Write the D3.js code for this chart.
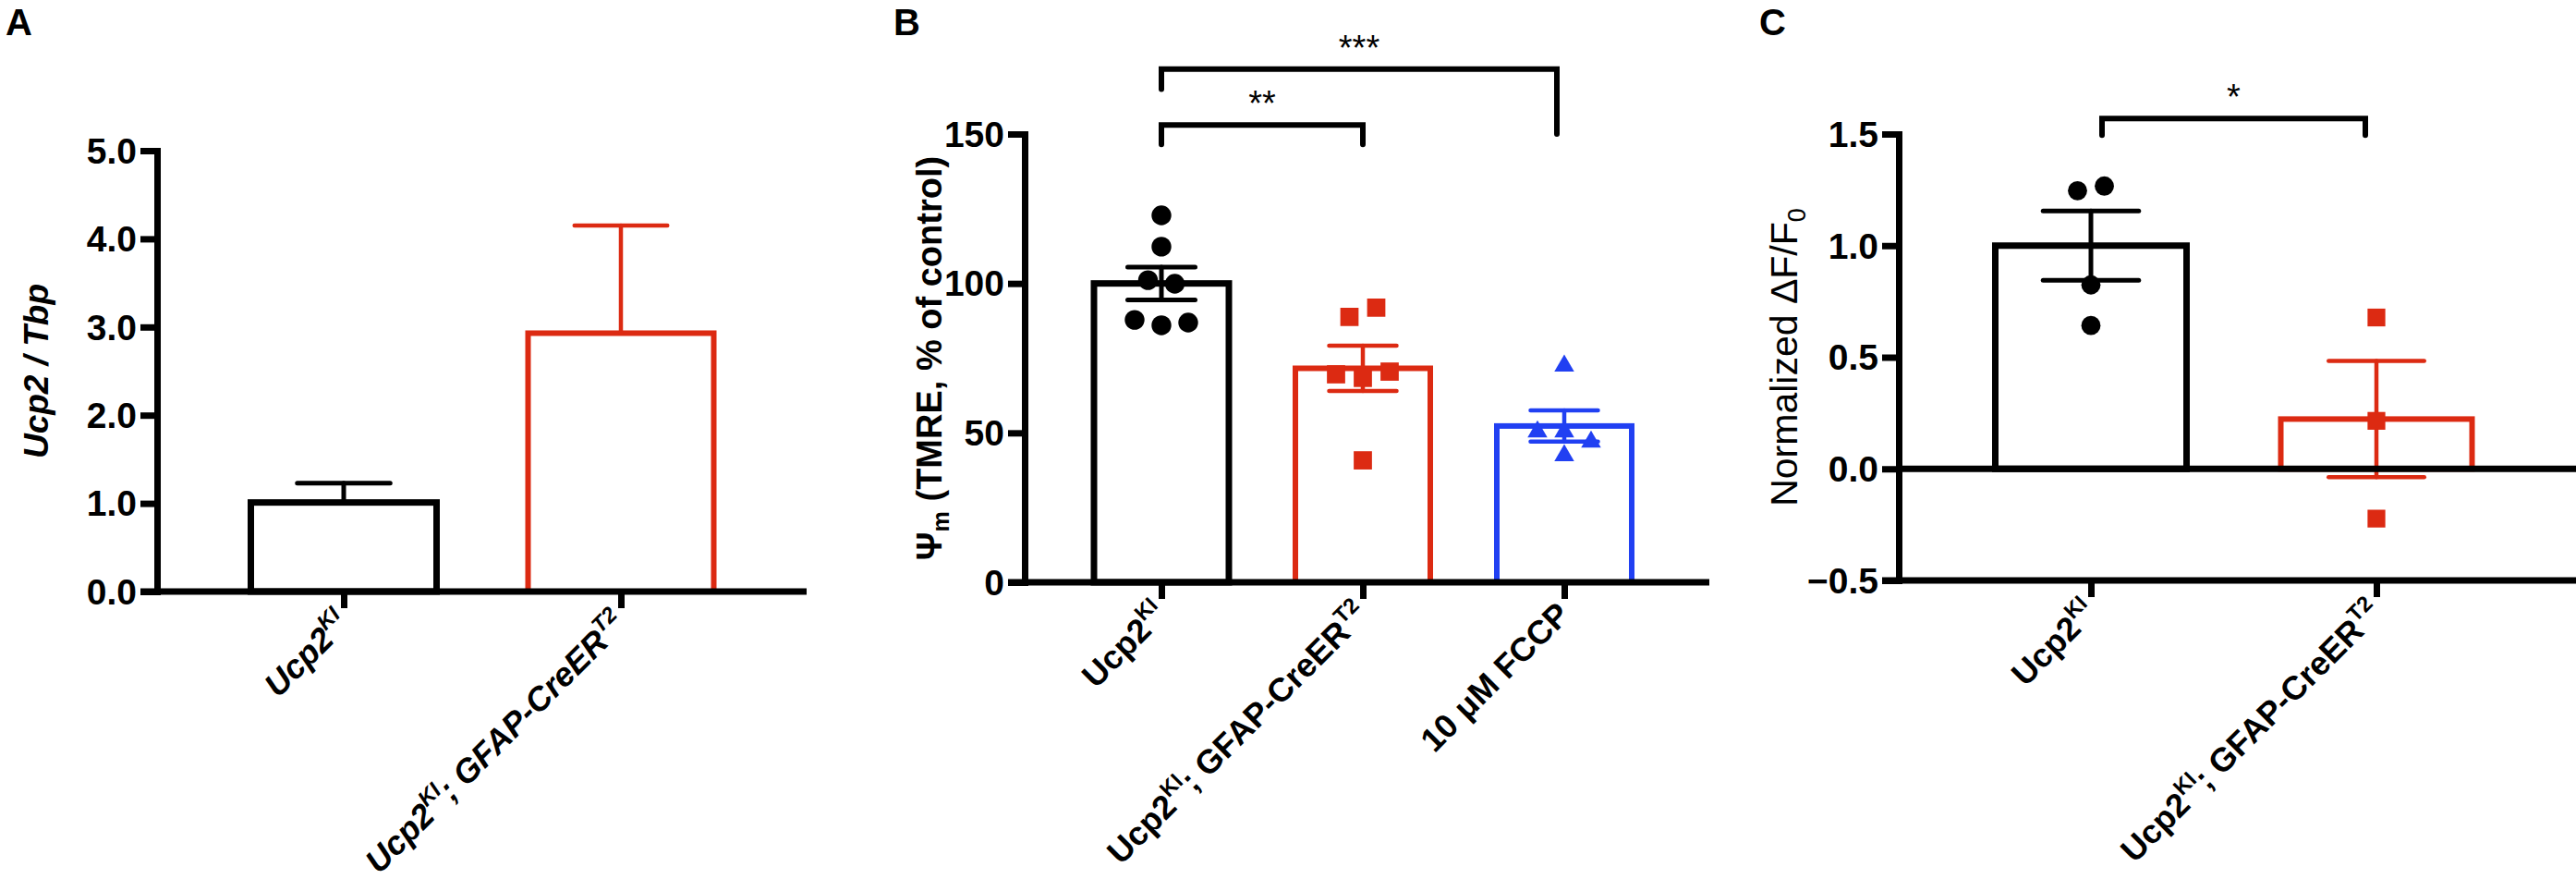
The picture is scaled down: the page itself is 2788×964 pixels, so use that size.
<!DOCTYPE html>
<html>
<head>
<meta charset="utf-8">
<script src="https://cdn.jsdelivr.net/npm/d3@7"></script>
<style>
  body { margin: 0; background: #fff; }
  text { font-family: "Liberation Sans", Arial, Helvetica, sans-serif; }
  .tick text { font-family: "Liberation Sans Narrow", "Arial Narrow", "Liberation Sans", sans-serif; }
</style>
</head>
<body>
<script>
// ---- data ----
const catsA = ["Ucp2KI", "Ucp2KI; GFAP-CreERT2"];
const meanA = [1.01, 2.93];
const semA = [0.22, 1.22];
const ticksA = [0, 1, 2, 3, 4, 5];

const catsB = ["Ucp2KI", "Ucp2KI; GFAP-CreERT2", "10 μM FCCP"];
const meanB = [100, 71.6, 52.3];
const semB = [5.5, 7.6, 5.2];
const ptsB0 = [122.8, 112.3, 101.1, 99.9, 87.8, 86.0, 86.9];
const ptsB1 = [88.8, 91.9, 69.6, 68.4, 70.5, 40.8];
const ptsB2 = [72.4, 50.4, 50.4, 47.0, 42.4];
const ticksB = [0, 50, 100, 150];

const catsC = ["Ucp2KI", "Ucp2KI; GFAP-CreERT2"];
const meanC = [1.0, 0.223];
const semC = [0.155, 0.26];
const ptsC0 = [1.246, 1.267, 0.824, 0.642];
const ptsC1 = [0.678, 0.215, -0.223];
const ticksC = [-0.5, 0, 0.5, 1.0, 1.5];

// rich label pieces: [text, "sup" | "sub" | null]
const labelParts = {
  "Ucp2KI": [["Ucp2", null], ["KI", "sup"]],
  "Ucp2KI; GFAP-CreERT2": [["Ucp2", null], ["KI", "sup"], ["; GFAP-CreER", null], ["T2", "sup"]],
  "10 μM FCCP": [["10 μM FCCP", null]]
};

const black = "#000", red = "#dc2a12", blue = "#2140f2";

const svg = d3.select("body").append("svg")
  .attr("width", 2788)
  .attr("height", 964);

function rich(text, parts, size) {
  let shift = 0;
  parts.forEach(([str, kind]) => {
    const target = kind === "sup" ? -0.42 * size : kind === "sub" ? 0.22 * size : 0;
    const t = text.append("tspan").text(str).attr("dy", target - shift);
    if (kind) t.attr("font-size", size * 0.66);
    shift = target;
  });
}

// spread points that overlap in y (GraphPad-like scatter)
function spread(values, y, gap, thresh) {
  const idx = values.map((v, i) => i).sort((a, b) => y(values[a]) - y(values[b]));
  const offs = new Array(values.length).fill(0);
  let group = [idx[0]];
  const flush = () => {
    const g = group.slice().sort((a, b) => a - b);
    g.forEach((k, j) => offs[k] = (j - (g.length - 1) / 2) * gap);
  };
  for (let i = 1; i < idx.length; i++) {
    if (Math.abs(y(values[idx[i]]) - y(values[idx[i - 1]])) < thresh) group.push(idx[i]);
    else { flush(); group = [idx[i]]; }
  }
  flush();
  return offs;
}

function panel(cfg) {
  const g = svg.append("g");
  const { x, y, cats, means, sems, colors } = cfg;
  const base = y(cfg.base);

  // bars
  g.selectAll("rect.bar")
    .data(means)
    .join("rect")
    .attr("x", (d, i) => x(cats[i]) - cfg.barW / 2)
    .attr("y", d => Math.min(y(d), base))
    .attr("width", cfg.barW)
    .attr("height", d => Math.abs(base - y(d)))
    .attr("fill", "white")
    .attr("stroke", (d, i) => colors[i])
    .attr("stroke-width", (d, i) => colors[i] === black ? 7 : 6);

  // error bars
  means.forEach((m, i) => {
    const cx = x(cats[i]);
    const lo = cfg.upperOnly ? m : m - sems[i];
    const hi = m + sems[i];
    const eg = g.append("g")
      .attr("stroke", colors[i])
      .attr("stroke-width", colors[i] === black ? 5 : 4.5)
      .attr("stroke-linecap", "round");
    eg.append("line").attr("x1", cx).attr("x2", cx).attr("y1", y(lo)).attr("y2", y(hi));
    const caps = cfg.upperOnly ? [hi] : [lo, hi];
    caps.forEach(v => {
      eg.append("line")
        .attr("x1", cx - cfg.barW / 4).attr("x2", cx + cfg.barW / 4)
        .attr("y1", y(v)).attr("y2", y(v));
    });
  });

  // individual points
  (cfg.points || []).forEach((pts, i) => {
    const offs = spread(pts, y, 29, 13);
    const sym = d3.symbol().type(cfg.shapes[i]).size(cfg.sizes[i]);
    g.selectAll(null)
      .data(pts)
      .join("path")
      .attr("d", sym)
      .attr("fill", colors[i])
      .attr("transform", (d, j) => `translate(${x(cats[i]) + offs[j]},${y(d)})`);
  });

  // y axis
  const ya = g.append("g")
    .attr("transform", `translate(${cfg.axisX},0)`)
    .call(d3.axisLeft(y).tickValues(cfg.ticks).tickFormat(cfg.fmt)
      .tickSize(18).tickPadding(4).tickSizeOuter(0));
  ya.select(".domain").attr("stroke-linecap", "square");

  // extra zero line (panel C)
  if (cfg.zeroLine) {
    g.append("line")
      .attr("x1", cfg.axisX).attr("x2", cfg.xEnd)
      .attr("y1", y(0)).attr("y2", y(0))
      .attr("stroke", black).attr("stroke-width", 7);
  }

  // x axis
  const xa = g.append("g")
    .attr("transform", `translate(0,${y(cfg.ticks[0])})`)
    .call(d3.axisBottom(x).tickFormat("").tickSize(18).tickSizeOuter(0));
  xa.select(".domain").attr("d", `M${cfg.axisX - 18},0H${cfg.xEnd}`);

  g.selectAll(".domain, .tick line")
    .attr("stroke", black)
    .attr("stroke-width", 7);
  ya.attr("font-size", null).attr("font-family", null);
  ya.selectAll("text")
    .attr("font-size", 39)
    .attr("font-weight", "bold")
    .attr("dy", "0.34em")
    .attr("fill", black);

  // category labels, rotated
  const y0 = y(cfg.ticks[0]);
  cats.forEach(c => {
    const t = g.append("text")
      .attr("transform", `translate(${x(c) + 8},${y0 + 37}) rotate(-45)`)
      .attr("text-anchor", "end")
      .attr("font-size", 36)
      .attr("font-weight", "bold")
      .attr("font-style", cfg.italicCats ? "italic" : "normal");
    rich(t, labelParts[c], 36);
  });

  // y title
  const yt = g.append("text")
    .attr("transform", `translate(${cfg.titleX},${(y.range()[0] + y.range()[1]) / 2}) rotate(-90)`)
    .attr("text-anchor", "middle")
    .attr("font-size", cfg.titleSize)
    .attr("font-weight", cfg.titleWeight)
    .attr("font-style", cfg.titleStyle);
  rich(yt, cfg.title, cfg.titleSize);

  // panel letter
  g.append("text")
    .attr("x", cfg.letterX).attr("y", 38)
    .attr("font-size", 40).attr("font-weight", "bold")
    .text(cfg.letter);

  // significance brackets
  (cfg.sig || []).forEach(s => {
    const xl = x(cats[s.from]) + (s.insetL || 0), xr = x(cats[s.to]) - (s.insetR || 0);
    g.append("path")
      .attr("d", `M${xl},${y(s.dropL)}V${y(s.top)}H${xr}V${y(s.dropR)}`)
      .attr("fill", "none")
      .attr("stroke", black)
      .attr("stroke-width", 6)
      .attr("stroke-linecap", "round");
    g.append("text")
      .attr("x", (xl + xr) / 2).attr("y", y(s.top) - 10)
      .attr("text-anchor", "middle")
      .attr("font-size", 38)
      .text(s.label);
  });
}

// ---- A ----
panel({
  letter: "A", letterX: 6,
  cats: catsA, means: meanA, sems: semA, upperOnly: true,
  colors: [black, red],
  x: d3.scalePoint().domain(catsA).range([372, 672]),
  y: d3.scaleLinear().domain([0, 5]).range([640, 163]),
  base: 0, ticks: ticksA, fmt: d3.format(".1f"),
  axisX: 170, xEnd: 873, barW: 201,
  italicCats: true,
  title: [["Ucp2 / Tbp", null]], titleX: 52, titleSize: 37,
  titleWeight: "bold", titleStyle: "italic"
});

// ---- B ----
panel({
  letter: "B", letterX: 967,
  cats: catsB, means: meanB, sems: semB,
  colors: [black, red, blue],
  points: [ptsB0, ptsB1, ptsB2],
  shapes: [d3.symbolCircle, d3.symbolSquare, d3.symbolTriangle],
  sizes: [360, 390, 200],
  x: d3.scalePoint().domain(catsB).range([1257, 1693]),
  y: d3.scaleLinear().domain([0, 150]).range([630, 145]),
  base: 0, ticks: ticksB, fmt: d3.format("d"),
  axisX: 1109, xEnd: 1850, barW: 146,
  italicCats: false,
  title: [["Ψ", null], ["m", "sub"], [" (TMRE, % of control)", null]], titleX: 1019, titleSize: 38,
  titleWeight: "bold", titleStyle: "normal",
  sig: [
    { from: 0, to: 1, label: "**", top: 153, dropL: 146.5, dropR: 146.5 },
    { from: 0, to: 2, label: "***", top: 171.7, dropL: 165, dropR: 150, insetR: 8 }
  ]
});

// ---- C ----
panel({
  letter: "C", letterX: 1904,
  cats: catsC, means: meanC, sems: semC,
  colors: [black, red],
  points: [ptsC0, ptsC1],
  shapes: [d3.symbolCircle, d3.symbolSquare],
  sizes: [340, 370],
  x: d3.scalePoint().domain(catsC).range([2263, 2572]),
  y: d3.scaleLinear().domain([-0.5, 1.5]).range([628, 145]),
  base: 0, ticks: ticksC, fmt: d3.format(".1f"),
  axisX: 2055, xEnd: 2788, barW: 207, zeroLine: true,
  italicCats: false,
  title: [["Normalized ΔF/F", null], ["0", "sub"]], titleX: 1945, titleSize: 41,
  titleWeight: "normal", titleStyle: "normal",
  sig: [
    { from: 0, to: 1, label: "*", top: 1.569, dropL: 1.495, dropR: 1.495, insetL: 12, insetR: 12 }
  ]
});
</script>
</body>
</html>
